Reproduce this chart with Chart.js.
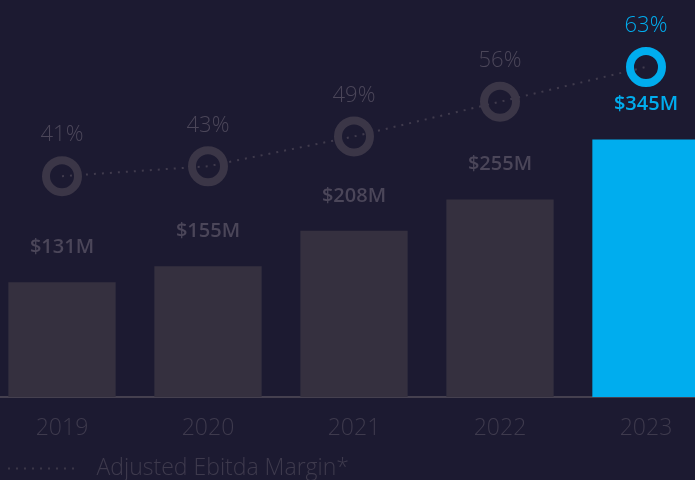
<!DOCTYPE html>
<html>
<head>
<meta charset="utf-8">
<script src="https://cdn.jsdelivr.net/npm/chart.js@4"></script>
<style>
  html, body { margin: 0; padding: 0; background: #1c1a31; }
  #wrap { position: relative; width: 695px; height: 480px; overflow: hidden; background: #1c1a31; }
  #chart { position: absolute; left: -11px; top: 0; }
</style>
</head>
<body>
<div id="wrap">
  <canvas id="chart" width="730" height="490"></canvas>
</div>
<script>
// data
var years = ['2019', '2020', '2021', '2022', '2023'];
var revenue = [131, 155, 208, 255, 345];          // $M
var margin = [41, 43, 49, 56, 63];                 // %
var revenueLabels = ['$131M', '$155M', '$208M', '$255M', '$345M'];
var marginLabels = ['41%', '43%', '49%', '56%', '63%'];

var grey = '#35303f';
var ringGrey = '#3b3647';
var textGrey = '#4b4659';
var lineGrey = '#403b4d';
var legendGrey = '#3e3a4d';
var blue = '#00adee';
var last = years.length - 1;

var barColors = years.map(function (y, i) { return i === last ? blue : grey; });
var ringColors = years.map(function (y, i) { return i === last ? blue : ringGrey; });

// small dotted line used as the legend marker (blank space round it)
function dottedMarker() {
    var c = document.createElement('canvas');
    c.width = 96;
    c.height = 4;
    var g = c.getContext('2d');
    g.fillStyle = '#3a3648';
    for (var x = 19; x < 84; x += 8) {
        g.fillRect(x, 1, 2, 2);
    }
    return c;
}

// draws the value labels above rings and bars
var valueLabels = {
    id: 'valueLabels',
    afterDatasetsDraw: function (chart) {
        var ctx = chart.ctx;
        ctx.save();
        ctx.textAlign = 'center';
        ctx.textBaseline = 'middle';

        var bars = chart.getDatasetMeta(1).data;
        ctx.font = '600 20px "Open Sans"';
        bars.forEach(function (bar, i) {
            ctx.fillStyle = i === last ? blue : textGrey;
            ctx.fillText(revenueLabels[i], bar.x, bar.y - 35);
        });

        var rings = chart.getDatasetMeta(0).data;
        ctx.font = '300 22px "Open Sans"';
        rings.forEach(function (pt, i) {
            ctx.fillStyle = i === last ? blue : textGrey;
            ctx.fillText(marginLabels[i], pt.x, pt.y - 41);
        });
        ctx.restore();
    }
};

var marker = dottedMarker();
var ctx = document.getElementById('chart').getContext('2d');

var myChart = new Chart(ctx, {
    type: 'bar',
    data: {
        labels: years,
        datasets: [{
            type: 'line',
            label: 'Adjusted Ebitda Margin*',
            data: margin,
            yAxisID: 'y2',
            borderColor: lineGrey,
            borderWidth: 2,
            borderDash: [2, 6],
            pointRadius: 16,
            pointHoverRadius: 16,
            pointBorderWidth: 8,
            pointBorderColor: ringColors,
            pointBackgroundColor: 'rgba(0,0,0,0)',
            fill: false,
            order: 0
        }, {
            label: 'Revenue',
            data: revenue,
            yAxisID: 'y',
            base: -41,
            backgroundColor: barColors,
            categoryPercentage: 1,
            barPercentage: 0.735,
            order: 1
        }]
    },
    options: {
        responsive: false,
        animation: false,
        layout: { autoPadding: false, padding: 0 },
        plugins: {
            tooltip: { enabled: false },
            legend: {
                position: 'bottom',
                align: 'start',
                labels: {
                    usePointStyle: true,
                    pointStyleWidth: 96,
                    boxHeight: 20,
                    padding: 0,
                    color: legendGrey,
                    font: { family: 'Open Sans', size: 23, weight: '300' },
                    generateLabels: function (chart) {
                        return [{
                            text: chart.data.datasets[0].label,
                            pointStyle: marker,
                            fontColor: legendGrey,
                            lineWidth: 0,
                            datasetIndex: 0,
                            hidden: false
                        }];
                    }
                }
            }
        },
        scales: {
            x: {
                grid: { display: false, drawTicks: false },
                border: { display: true, color: '#45404f', width: 2 },
                ticks: {
                    color: legendGrey,
                    padding: 18,
                    font: { family: 'Open Sans', size: 23, weight: '300' }
                },
                afterFit: function (scale) {
                    scale.height = 60;
                }
            },
            y: {
                display: false,
                min: -41,
                max: 554
            },
            y2: {
                display: false,
                min: -3.5,
                max: 76.5
            }
        }
    },
    plugins: [valueLabels]
});
</script>
</body>
</html>
